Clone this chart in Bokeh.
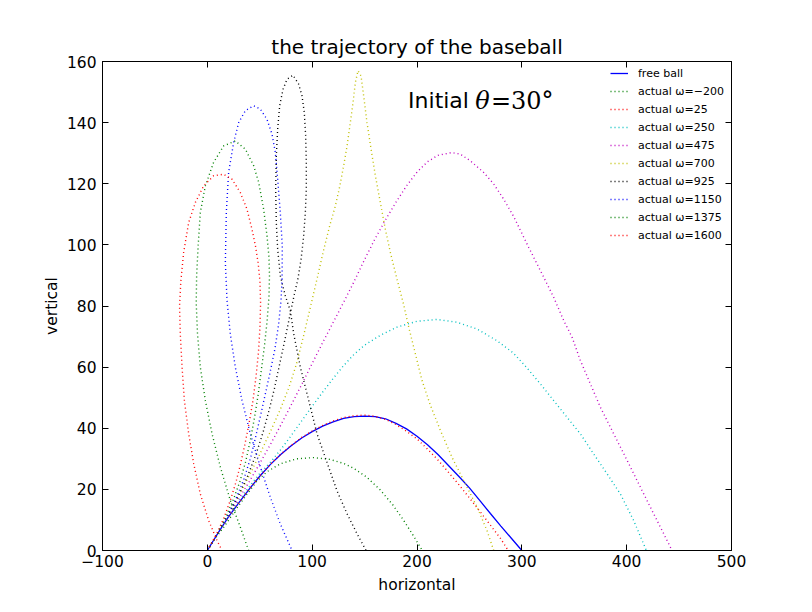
from bokeh.plotting import figure
from bokeh.models import (LinearAxis, FixedTicker, Legend, LegendItem, Label)
from bokeh.embed import file_html
from bokeh.resources import INLINE

# ---------------- data ----------------
x_ticks = [-100, 0, 100, 200, 300, 400, 500]
y_ticks = [0, 20, 40, 60, 80, 100, 120, 140, 160]
x_tick_labels = ["\u2212100", "0", "100", "200", "300", "400", "500"]

spins = [-200, 25, 250, 475, 700, 925, 1150, 1375, 1600]

free_x = [0, 10, 20, 30, 40, 50, 60, 70, 80, 90, 100, 110, 120, 130, 140, 150,
          160, 170, 180, 190, 200, 210, 220, 230, 240, 250, 260, 270, 280, 290, 300]
free_y = [0, 5.6, 10.9, 15.6, 20.1, 24.3, 28.1, 31.4, 34.3, 36.8, 38.9, 40.7, 42.1, 43.2,
          43.8, 44.0, 43.8, 43.1, 41.6, 39.8, 37.4, 34.6, 31.4, 27.8, 24.2, 20.5, 16.3,
          12.1, 8.0, 4.0, 0]

w_m200_x = [0, 6, 15.6, 28, 38, 47, 57, 70, 85, 101, 117, 130, 140, 152, 165, 177, 187, 197, 205]
w_m200_y = [0, 3.3, 7.6, 13.8, 18.5, 22.6, 25.8, 28.4, 30.0, 30.4, 29.8, 28.5, 26.8, 24.0,
            19.8, 14.9, 10.0, 4.6, 0]

w_25_x = [0, 10, 20, 30, 40, 50, 60, 70, 80, 90, 100, 110, 120, 130, 140, 150, 160, 170,
          180, 190, 200, 210, 220, 230, 240, 250, 260, 270, 280, 287]
w_25_y = [0, 5.7, 11.0, 15.7, 20.2, 24.4, 28.2, 31.5, 34.4, 37.0, 39.1, 40.9, 42.4, 43.5,
          44.1, 44.3, 43.9, 42.9, 41.2, 39.0, 36.5, 33.2, 29.6, 25.6, 21.5, 17.2, 12.8, 8.3,
          3.8, 0]

w_250_x = [0, 10, 20, 30, 40, 50, 60, 70, 80, 90, 100, 110, 120, 130, 140, 150, 165, 181,
           200, 219, 238, 257, 276, 292, 305.5, 317.7, 330.3, 343.1, 355.8, 368.5, 381.3,
           394, 406.7, 418.8]
w_250_y = [0, 5.7, 11.2, 16.2, 20.9, 25.2, 28.8, 33.0, 37.6, 42.4, 47.2, 51.8, 56.3, 60.5,
           64.2, 67.2, 70.4, 73.1, 75.0, 75.6, 74.7, 72.5, 68.7, 64.6, 59.5, 54.5, 49.1, 43.6,
           38.2, 31.6, 25.1, 18.5, 9.8, 0]

w_475_x = [0, 10, 20, 30, 40, 50, 60, 70, 80, 90, 100, 110, 120, 130, 140, 150, 160, 170,
           180, 190, 200, 210, 220, 233, 241.3, 250.9, 263.6, 273.2, 282.6, 292.2, 306.5,
           319.3, 330.3, 339.9, 347.9, 355.8, 365.4, 374.9, 387.6, 400.4, 413.1, 425.8,
           435.3, 443.3]
w_475_y = [0, 5.8, 11.4, 17.0, 22.5, 28.5, 34.6, 41.0, 47.6, 54.3, 61.2, 68.0, 74.6, 81.2,
           88.0, 95.2, 102.0, 108.2, 114.0, 119.3, 123.8, 127.2, 129.3, 130.2, 129.7, 127.5,
           123.7, 119.9, 115.0, 109.3, 99.2, 90.5, 82.9, 75.3, 69.8, 62.2, 54.5, 46.9, 38.2,
           29.5, 20.7, 12.0, 5.5, 0]

w_700_x = [0, 10, 20, 30, 40, 50, 60, 70, 78, 85, 92, 99, 105, 111, 117, 122, 126, 130,
           133.3, 136.4, 139, 141.2, 143.7, 146.6, 149.1, 152.3, 156.2, 160.3, 165, 169.8,
           174.6, 180.9, 187.3, 192.1, 198.4, 204.8, 212.7, 222.3, 233.4, 244.5, 257.3,
           266.8, 273.2]
w_700_y = [0, 5.8, 11.8, 18.0, 24.5, 31.5, 38.8, 46.5, 53.5, 61.0, 70.5, 80.6, 89.4, 98.4,
           106.6, 112.6, 118.6, 125.8, 132.4, 140.0, 146.6, 153.1, 157.0, 155.3, 148.8, 140.0,
           131.3, 122.6, 113.9, 105.1, 97.5, 88.8, 80.4, 73.1, 64.4, 55.6, 47.6, 39.3, 30.5,
           22.9, 14.2, 6.5, 0]

w_925_x = [0, 10, 20, 30, 38, 46, 53, 59, 64, 69, 74, 78.5, 82.5, 86.5, 89.5, 91.9, 93.5,
           94.4, 94.4, 93.8, 92.5, 90.3, 87.1, 81.7, 76, 72.2, 69, 67.1, 65.8, 65.2, 65.8,
           67.1, 69.6, 74.4, 79.2, 82.4, 88.7, 96.7, 104.6, 115, 123.7, 133.3, 142.8, 151.4]
w_925_y = [0, 5.8, 11.8, 18.2, 24.0, 31.0, 38.5, 46.0, 53.0, 61.0, 69.0, 76.5, 83.0, 89.0,
           95.5, 103.0, 110.6, 118.2, 127.0, 135.7, 143.3, 148.8, 152.6, 155.5, 154.2, 150.9,
           145.5, 137.9, 129.2, 118.2, 107.3, 98.6, 89.9, 83.3, 78.4, 70.9, 60.0, 49.1, 38.2,
           28.0, 19.5, 12.0, 5.5, 0]

w_1150_x = [0, 10, 20, 28, 35, 41, 46, 51, 55.5, 60, 64.5, 68, 70.3, 71.3, 71.5, 69.6, 67.1,
            64.9, 61.7, 56.9, 50.6, 44.2, 36.3, 29.9, 25.1, 20.3, 18.1, 17.2, 18.8, 21.9,
            26.7, 33.1, 41, 50.6, 60.1, 69.6, 80.8]
w_1150_y = [0, 5.8, 11.8, 17.5, 23.5, 30.0, 37.0, 44.5, 51.5, 58.5, 66.0, 74.0, 81.8, 88.8,
            99.7, 110.6, 121.5, 130.2, 136.2, 141.1, 144.4, 145.5, 143.9, 140.0, 133.5, 123.7,
            110.6, 94.2, 81.8, 70.9, 60.0, 49.1, 38.2, 27.3, 17.4, 8.7, 0]

w_1375_x = [0, 10, 18, 25, 31, 36.5, 41, 45, 48.5, 51.5, 54.5, 57, 58.8, 59.3, 58.8, 56.9,
            53.7, 49, 44.2, 36.3, 26.7, 15.6, 6, -1.9, -6.7, -8.7, -10.2, -10.6, -9.4, -6.7,
            -1.9, 4.5, 12.4, 21.9, 31.5, 39.4]
w_1375_y = [0, 5.8, 11.3, 16.8, 22.5, 29.0, 36.0, 43.5, 51.0, 59.0, 67.0, 75.0, 83.0, 90.0,
            96.0, 103.0, 111.7, 120.4, 125.9, 131.3, 134.0, 132.4, 127.0, 119.3, 110.6, 100.0,
            90.0, 81.0, 71.0, 60.0, 49.1, 38.2, 27.3, 16.4, 7.6, 0]

w_1600_x = [0, 9, 16, 22, 27, 31.5, 36, 40, 43.5, 46.5, 48.8, 50.2, 50.8, 50.2, 48.5, 46.0,
            42.6, 37.8, 31.5, 23.5, 15.6, 6, -3.5, -11.4, -17.8, -22.6, -25.3, -26.5, -25.8,
            -24.1, -21.9, -17.8, -13, -6.7, 1.3, 9.2, 14]
w_1600_y = [0, 5.5, 10.8, 16.5, 22.0, 28.0, 35.0, 42.0, 49.0, 57.0, 65.0, 73.0, 81.0, 88.0,
            94.0, 99.5, 105.1, 111.7, 117.1, 121.5, 123.1, 122.6, 119.3, 113.9, 107.3, 97.5,
            88.0, 80.0, 70.9, 60.0, 49.1, 38.2, 28.4, 18.5, 9.8, 3.3, 0]

actual_x = [w_m200_x, w_25_x, w_250_x, w_475_x, w_700_x, w_925_x, w_1150_x, w_1375_x, w_1600_x]
actual_y = [w_m200_y, w_25_y, w_250_y, w_475_y, w_700_y, w_925_y, w_1150_y, w_1375_y, w_1600_y]

# ---------------- styling ----------------
colors = ["#008000", "#ff0000", "#00bfbf", "#bf00bf", "#bfbf00", "#000000",
          "#0000ff", "#008000", "#ff0000"]
FONT = "DejaVu Sans"

p = figure(width=800, height=600, x_range=(-100, 500), y_range=(0, 160),
           output_backend="svg", toolbar_location=None,
           min_border_left=102, min_border_right=69, min_border_top=61, min_border_bottom=50)
p.background_fill_color = "white"
p.border_fill_color = "white"
p.outline_line_color = "black"
p.outline_line_width = 1
p.xgrid.visible = False
p.ygrid.visible = False

p.title.text = "the trajectory of the baseball"
p.title.align = "center"
p.title.text_font = FONT
p.title.text_font_size = "20px"
p.title.text_font_style = "normal"
p.title.text_color = "black"
p.title.standoff = 5


def style_axis(ax, labels=True):
    ax.axis_line_color = "black"
    ax.axis_line_width = 1
    ax.major_tick_in = 6
    ax.major_tick_out = 0
    ax.major_tick_line_color = "black"
    ax.minor_tick_line_color = None
    if labels:
        ax.major_label_text_font = FONT
        ax.major_label_text_font_size = "15.5px"
        ax.major_label_text_color = "black"
        ax.axis_label_text_font = FONT
        ax.axis_label_text_font_size = "15.5px"
        ax.axis_label_text_font_style = "normal"
        ax.axis_label_text_color = "black"
    else:
        ax.major_label_text_color = None
        ax.major_label_text_font_size = "1px"
        ax.major_label_standoff = 0


xb = p.xaxis[0]
yl = p.yaxis[0]
xb.ticker = FixedTicker(ticks=x_ticks)
yl.ticker = FixedTicker(ticks=y_ticks)
xb.major_label_overrides = {t: s for t, s in zip(x_ticks, x_tick_labels)}
style_axis(xb)
style_axis(yl)
xb.axis_label = "horizontal"
yl.axis_label = "vertical"
xb.major_label_standoff = 4
yl.major_label_standoff = 6
xb.axis_label_standoff = 6
yl.axis_label_standoff = 3

xa = LinearAxis(ticker=FixedTicker(ticks=x_ticks))
style_axis(xa, labels=False)
p.add_layout(xa, "above")
yr = LinearAxis(ticker=FixedTicker(ticks=y_ticks))
style_axis(yr, labels=False)
p.add_layout(yr, "right")

items = []
r_free = p.line(free_x, free_y, line_color="#0000ff", line_width=1.3)
items.append(LegendItem(label="free ball", renderers=[r_free]))
for w, xs, ys, c in zip(spins, actual_x, actual_y, colors):
    r = p.line(xs, ys, line_color=c, line_width=1.4, line_dash="1 3")
    lab = "actual \u03c9=" + (("\u2212" + str(-w)) if w < 0 else str(w))
    items.append(LegendItem(label=lab, renderers=[r]))

legend = Legend(items=items, location=(508, 306))
legend.border_line_alpha = 0
legend.background_fill_alpha = 0
legend.label_text_font = FONT
legend.label_text_font_size = "11px"
legend.label_text_color = "black"
legend.glyph_width = 18
legend.glyph_height = 18
legend.label_height = 18
legend.label_standoff = 10
legend.spacing = 0
legend.padding = 0
legend.margin = 0
p.add_layout(legend)

LBL_Y = 147.2
p.add_layout(Label(x=191.5, y=LBL_Y, text="Initial", text_font=FONT,
                   text_font_size="22px", text_color="black",
                   text_baseline="alphabetic"))
p.add_layout(Label(x=255.5, y=LBL_Y, text="\u03b8", text_font="DejaVu Serif",
                   text_font_style="italic", text_font_size="24px", text_color="black",
                   text_baseline="alphabetic"))
p.add_layout(Label(x=270.5, y=LBL_Y, text="=30\u00b0", text_font="DejaVu Serif",
                   text_font_size="24px", text_color="black",
                   text_baseline="alphabetic"))

open("out.html", "w").write(file_html(p, INLINE))
